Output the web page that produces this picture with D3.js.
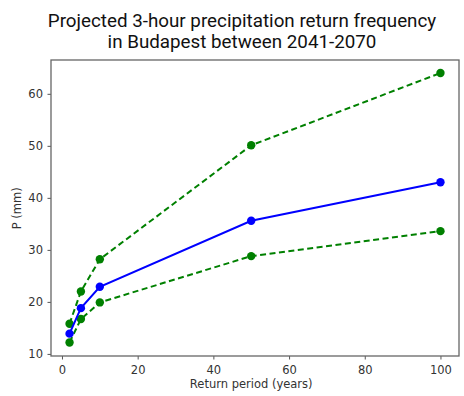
<!DOCTYPE html>
<html>
<head>
<meta charset="utf-8">
<script src="https://cdn.jsdelivr.net/npm/d3@7"></script>
<style>
  body { margin: 0; background: #fff; }
  svg { display: block; }
</style>
</head>
<body>
<script>
(function() {

  // return periods (years)
  var periods = [2, 5, 10, 50, 100];
  // precipitation (mm)
  var median = [13.9, 18.8, 22.9, 35.6, 43.0];
  var upper = [15.8, 22.0, 28.2, 50.1, 64.0];
  var lower = [12.2, 16.7, 19.9, 28.8, 33.6];
  var xTicks = [0, 20, 40, 60, 80, 100];
  var yTicks = [10, 20, 30, 40, 50, 60];
  var titleLines = ["Projected 3-hour precipitation return frequency", "in Budapest between 2041-2070"];

  var width = 464, height = 396;
  var margin = {left: 51, top: 60, right: 5, bottom: 40};

  var svg = d3.select("body").append("svg")
      .attr("width", width)
      .attr("height", height);

  var x = d3.scaleLinear()
      .domain([-2.9, 104.9])
      .range([margin.left, width - margin.right]);

  var y = d3.scaleLinear()
      .domain([9.6, 66.5])
      .range([height - margin.bottom, margin.top]);

  svg.selectAll(".title")
      .data(titleLines)
      .enter().append("text")
      .attr("x", 242)
      .attr("y", function(d, i) { return 26.5 + i * 21.5; })
      .attr("text-anchor", "middle")
      .style("font-family", "Roboto, sans-serif")
      .style("font-size", "18.8px")
      .style("fill", "#111")
      .text(function(d) { return d; });

  var xAxis = d3.axisBottom(x).tickValues(xTicks).tickSize(3.5).tickPadding(6.5);
  var yAxis = d3.axisLeft(y).tickValues(yTicks).tickSize(3.5).tickPadding(4.5);

  var gx = svg.append("g")
      .attr("transform", "translate(0," + (height - margin.bottom) + ")")
      .call(xAxis);
  var gy = svg.append("g")
      .attr("transform", "translate(" + margin.left + ",0)")
      .call(yAxis);

  [gx, gy].forEach(function(g) {
    g.select(".domain").remove();
    g.selectAll(".tick line").attr("stroke", "#555");
    g.selectAll(".tick text")
      .style("font-family", "DejaVu Sans, sans-serif")
      .style("font-size", "11.5px")
      .style("fill", "#333");
  });

  svg.append("rect")
      .attr("x", margin.left)
      .attr("y", margin.top)
      .attr("width", width - margin.left - margin.right)
      .attr("height", height - margin.top - margin.bottom)
      .attr("fill", "none")
      .attr("stroke", "#666")
      .attr("stroke-width", 1.3);

  svg.append("text")
      .attr("x", x(50))
      .attr("y", 388)
      .attr("text-anchor", "middle")
      .style("font-family", "DejaVu Sans, sans-serif")
      .style("font-size", "11.5px")
      .style("fill", "#333")
      .text("Return period (years)");

  svg.append("text")
      .attr("transform", "translate(21," + y(38) + ") rotate(-90)")
      .attr("text-anchor", "middle")
      .style("font-family", "DejaVu Sans, sans-serif")
      .style("font-size", "11.5px")
      .style("fill", "#333")
      .text("P (mm)");

  var series = [
    {values: upper, color: "#008000", dash: "6,3.5"},
    {values: lower, color: "#008000", dash: "6,3.5"},
    {values: median, color: "#0000ff", dash: null}
  ];

  var line = d3.line()
      .x(function(d) { return x(d[0]); })
      .y(function(d) { return y(d[1]); });

  series.forEach(function(s) {
    var pts = periods.map(function(p, i) { return [p, s.values[i]]; });
    svg.append("path")
        .datum(pts)
        .attr("d", line)
        .attr("fill", "none")
        .attr("stroke", s.color)
        .attr("stroke-width", 2)
        .attr("stroke-dasharray", s.dash);
    svg.append("g").selectAll("circle")
        .data(pts)
        .enter().append("circle")
        .attr("cx", function(d) { return x(d[0]); })
        .attr("cy", function(d) { return y(d[1]); })
        .attr("r", 4.2)
        .attr("fill", s.color);
  });

}());
</script>
</body>
</html>
